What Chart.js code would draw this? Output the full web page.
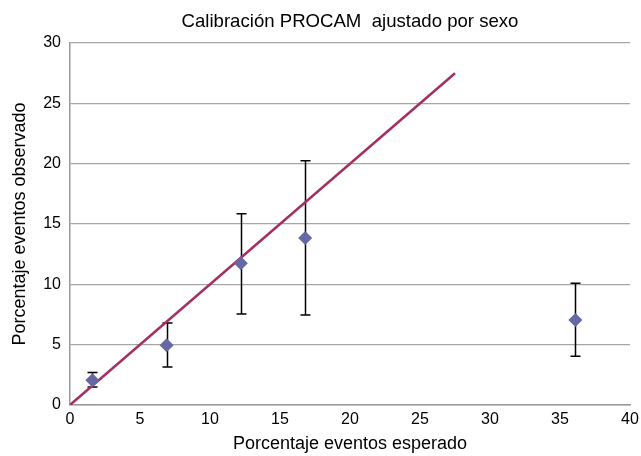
<!DOCTYPE html>
<html>
<head>
<meta charset="utf-8">
<script src="https://cdn.jsdelivr.net/npm/chart.js@4"></script>
<style>
  html, body { margin: 0; padding: 0; background: #fff; }
  #wrap { width: 641px; height: 456px; }
</style>
</head>
<body>
<div id="wrap"><canvas id="calibChart" width="641" height="456"></canvas></div>
<script>
    // expected vs observed event percentage
    var esperado = [1.6, 6.9, 12.2, 16.8, 36.1];
    var observado = [2.05, 4.95, 11.75, 13.85, 7.05];
    var ciBajo = [1.5, 3.15, 7.55, 7.45, 4.05];
    var ciAlto = [2.7, 6.8, 15.85, 20.25, 10.1];
    // reference line (perfect calibration)
    var lineaX = [0, 27.5];
    var lineaY = [0, 27.5];

    var puntos = esperado.map(function (x, i) {
        return { x: x, y: observado[i], lo: ciBajo[i], hi: ciAlto[i] };
    });
    var linea = lineaX.map(function (x, i) { return { x: x, y: lineaY[i] }; });

    // vertical error bars with caps, drawn under the markers
    var errorBars = {
        id: 'errorBars',
        beforeDatasetsDraw: function (chart) {
            var ctx = chart.ctx;
            var xs = chart.scales.x, ys = chart.scales.y;
            ctx.save();
            ctx.strokeStyle = '#000';
            ctx.lineWidth = 1.5;
            puntos.forEach(function (p) {
                var px = Math.round(xs.getPixelForValue(p.x)) + 0.5;
                var top = ys.getPixelForValue(p.hi);
                var bot = ys.getPixelForValue(p.lo);
                ctx.beginPath();
                ctx.moveTo(px, top);
                ctx.lineTo(px, bot);
                ctx.moveTo(px - 5, top);
                ctx.lineTo(px + 5, top);
                ctx.moveTo(px - 5, bot);
                ctx.lineTo(px + 5, bot);
                ctx.stroke();
            });
            ctx.restore();
        }
    };

    Chart.defaults.font.family = '"Liberation Sans", Arial, sans-serif';
    Chart.defaults.color = '#000';

    var ctx = document.getElementById('calibChart').getContext('2d');
    var calibChart = new Chart(ctx, {
        type: 'scatter',
        data: {
            datasets: [{
                label: 'Observado',
                data: puntos,
                pointStyle: 'rectRot',
                pointRadius: 7,
                pointHoverRadius: 7,
                backgroundColor: '#6767a3',
                borderColor: '#6767a3',
                borderWidth: 0,
                order: 0
            }, {
                label: 'Referencia',
                type: 'line',
                data: linea,
                borderColor: '#a33063',
                borderWidth: 2.5,
                pointRadius: 0,
                fill: false,
                order: 1
            }]
        },
        options: {
            responsive: false,
            animation: false,
            layout: { padding: { left: 0, right: 11, top: 0, bottom: 0 } },
            plugins: {
                legend: { display: false },
                tooltip: { enabled: false },
                title: {
                    display: true,
                    text: 'Calibración PROCAM  ajustado por sexo',
                    fullSize: false,
                    font: { size: 18.6, weight: 'normal' },
                    padding: { top: 11, bottom: 9.7 }
                }
            },
            scales: {
                x: {
                    type: 'linear',
                    min: 0,
                    max: 40,
                    ticks: { stepSize: 5, font: { size: 16 }, padding: 5 },
                    grid: { display: false, drawTicks: false },
                    border: { color: '#9a9a9a', width: 1.5 },
                    title: {
                        display: true,
                        text: 'Porcentaje eventos esperado',
                        font: { size: 18 },
                        padding: { top: 4, bottom: 1.2 }
                    },
                    afterFit: function (scale) {
                        scale.height = 51;
                        scale.paddingLeft = 0;
                        scale.paddingRight = 0;
                    }
                },
                y: {
                    type: 'linear',
                    min: 0,
                    max: 30,
                    ticks: { stepSize: 5, font: { size: 16 }, padding: 9 },
                    grid: { color: '#a6a6a6', lineWidth: 1.2, drawTicks: false },
                    border: { color: '#9a9a9a', width: 1.5 },
                    title: {
                        display: true,
                        text: 'Porcentaje eventos observado',
                        font: { size: 18 },
                        padding: { top: 9.2, bottom: 4 }
                    },
                    afterFit: function (scale) {
                        scale.width = 70;
                        scale.paddingTop = 0;
                        scale.paddingBottom = 0;
                    }
                }
            }
        },
        plugins: [errorBars]
    });
</script>
</body>
</html>
